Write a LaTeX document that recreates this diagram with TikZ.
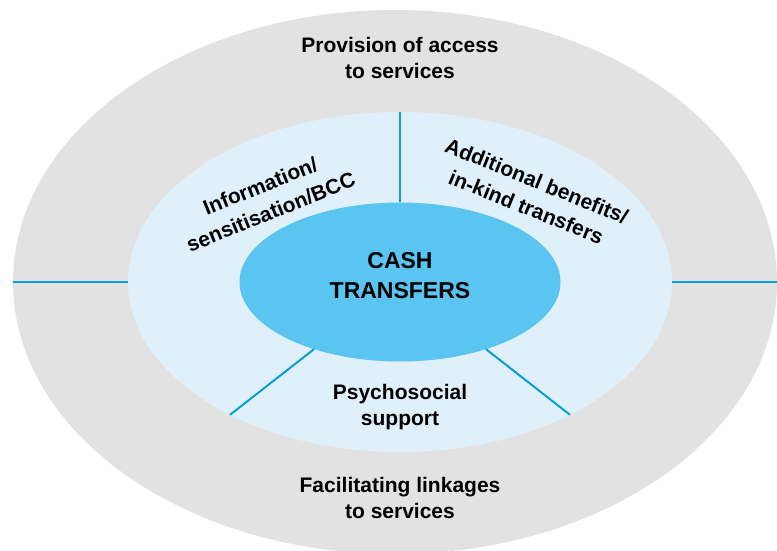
\documentclass[tikz,border=0pt]{standalone}
\usepackage{fontspec}
\setmainfont{Liberation Sans}
\usetikzlibrary{shapes.geometric}
\definecolor{outergrey}{HTML}{E2E2E2}
\definecolor{midblue}{HTML}{DFF0FB}
\definecolor{coreblue}{HTML}{5BC5F2}
\definecolor{lineblue}{HTML}{0A9DDB}
\tikzset{
  ring/.style={ellipse, inner sep=0pt, outer sep=0pt, draw=none},
  divider/.style={draw=lineblue, line width=2pt},
  lbl/.style={font=\bfseries\fontsize{21}{26}\selectfont, align=center, inner sep=0pt},
  rotlbl/.style={font=\bfseries\fontsize{21}{28}\selectfont, align=center, inner sep=0pt},
  corelbl/.style={font=\bfseries\fontsize{23}{30}\selectfont, align=center, inner sep=0pt}
}
\begin{document}
\begin{tikzpicture}[x=1pt,y=1pt]
\useasboundingbox (0,0) rectangle (777,550);
\clip (0,0) rectangle (777,550);
\node[ring, fill=outergrey, minimum width=764pt, minimum height=544pt] (outer) at (395,268) {};
\node[ring, fill=midblue, minimum width=544pt, minimum height=340pt] (mid) at (400,268) {};
\node[ring, fill=coreblue, minimum width=321pt, minimum height=159pt] (core) at (400,268) {};
% dividers
\draw[divider] (core.90) -- (mid.90);
\draw[divider] (core.218) -- (mid.218);
\draw[divider] (core.322) -- (mid.322);
\draw[divider] (mid.180) -- (outer.180);
\draw[divider] (mid.0) -- (outer.0);
% labels
\node[corelbl] (cash) at (400,274) {CASH\\TRANSFERS};
\node[lbl] (access) at (400,492.5) {Provision of access\\to services};
\node[lbl] (link) at (400,52) {Facilitating linkages\\to services};
\node[lbl] (psy) at (400,142.5) {Psychosocial\\support};
\node[rotlbl, rotate=22] (info) at (265.5,351) {Information/\\sensitisation/BCC};
\node[rotlbl, rotate=-22] (add) at (531.5,356) {Additional benefits/\\in-kind transfers};
\end{tikzpicture}
\end{document}
